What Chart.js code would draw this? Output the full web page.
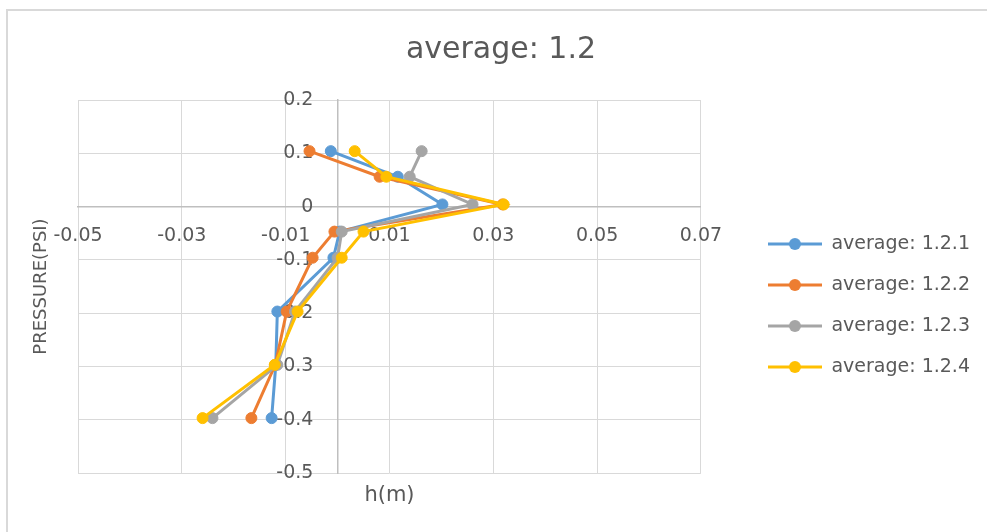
<!DOCTYPE html>
<html>
<head>
<meta charset="utf-8">
<script src="https://cdn.jsdelivr.net/npm/chart.js@4.4.1/dist/chart.umd.min.js"></script>
<style>
  html, body { margin: 0; padding: 0; background: #fff; overflow: hidden; }
  canvas { display: block; }
</style>
</head>
<body>
<canvas id="chart" width="987" height="532"></canvas>
<script>
// Pressure levels (PSI) shared by every run
const pressure = [0.104, 0.056, 0.004, -0.047, -0.096, -0.197, -0.297, -0.397];

// Head h(m) for each run
const run121 = [-0.0013, 0.0116, 0.0202, 0.0004, -0.0008, -0.0116, -0.0119, -0.0127];
const run122 = [-0.0054, 0.0081, 0.0318, -0.0006, -0.0048, -0.0098, -0.0120, -0.0166];
const run123 = [0.0162, 0.0139, 0.0260, 0.0008, 0.0000, -0.0082, -0.0116, -0.0241];
const run124 = [0.0033, 0.0094, 0.0320, 0.0050, 0.0008, -0.0077, -0.0121, -0.0260];

const seriesNames = ['average: 1.2.1', 'average: 1.2.2', 'average: 1.2.3', 'average: 1.2.4'];
const seriesColors = ['#5B9BD5', '#ED7D31', '#A5A5A5', '#FFC000'];

// Tick positions
const xTicks = [-0.05, -0.03, -0.01, 0.01, 0.03, 0.05, 0.07];
const yTicks = [0.2, 0.1, 0, -0.1, -0.2, -0.3, -0.4, -0.5];

const TEXT = '#595959';
const GRID = '#d9d9d9';
const AXIS = '#bfbfbf';
Chart.defaults.font.family = '"DejaVu Sans", sans-serif';
Chart.defaults.color = TEXT;

const runs = [run121, run122, run123, run124];
const toPoints = vals => vals.map((v, i) => ({ x: v, y: pressure[i] }));

// line-with-marker swatch for the legend
function swatch(color) {
  const c = document.createElement('canvas');
  c.width = 54; c.height = 14;
  const g = c.getContext('2d');
  g.strokeStyle = color; g.lineWidth = 3;
  g.beginPath(); g.moveTo(0, 7); g.lineTo(54, 7); g.stroke();
  g.fillStyle = color;
  g.beginPath(); g.arc(27, 7, 6, 0, Math.PI * 2); g.fill();
  return c;
}
const swatches = seriesColors.map(swatch);

const fmt = v => String(+Number(v).toFixed(2));
// y labels sit to the left of the vertical axis line; figure spaces keep a gap
const fmtY = v => fmt(v) + '\u2007\u2007';

// white page with a light frame along the top and left edges
const framePlugin = {
  id: 'frame',
  beforeDraw(chart) {
    const { ctx, width, height } = chart;
    ctx.save();
    ctx.fillStyle = '#ffffff';
    ctx.fillRect(0, 0, width, height);
    ctx.strokeStyle = GRID;
    ctx.lineWidth = 2;
    ctx.beginPath();
    ctx.moveTo(7, height);
    ctx.lineTo(7, 10);
    ctx.lineTo(width, 10);
    ctx.stroke();
    ctx.restore();
  }
};

const datasets = runs.map((vals, i) => ({
  label: seriesNames[i],
  data: toPoints(vals),
  xAxisID: 'x',
  yAxisID: 'y',
  showLine: true,
  borderColor: seriesColors[i],
  backgroundColor: seriesColors[i],
  borderWidth: 3,
  pointRadius: 5.5,
  pointBorderWidth: 1,
  pointHoverRadius: 5.5,
  order: runs.length - i
}));

new Chart(document.getElementById('chart'), {
  type: 'scatter',
  data: { datasets },
  plugins: [framePlugin],
  options: {
    responsive: false,
    animation: false,
    layout: { padding: { left: 22, right: 7, top: 0, bottom: 0 } },
    plugins: {
      tooltip: { enabled: false },
      title: {
        display: true,
        text: 'average: 1.2',
        color: TEXT,
        font: { size: 30, weight: 'normal' },
        padding: { top: 32, bottom: 32 }
      },
      legend: {
        position: 'right',
        maxWidth: 300,
        title: { display: true, text: '', padding: { top: 0, bottom: 64.6 } },
        labels: {
          usePointStyle: true,
          pointStyleWidth: 54,
          padding: 22,
          color: TEXT,
          font: { size: 19 },
          generateLabels(chart) {
            const items = Chart.defaults.plugins.legend.labels.generateLabels(chart);
            items.sort((a, b) => a.datasetIndex - b.datasetIndex);
            items.forEach(it => { it.pointStyle = swatches[it.datasetIndex]; });
            return items;
          }
        }
      }
    },
    scales: {
      x: {
        type: 'linear',
        position: { y: 0 },
        min: -0.05, max: 0.07,
        afterBuildTicks: s => { s.ticks = xTicks.map(v => ({ value: v })); },
        grid: { color: GRID, lineWidth: 1, drawTicks: false },
        border: { color: AXIS, width: 1.5 },
        ticks: { padding: 18, color: TEXT, font: { size: 19 }, callback: fmt }
      },
      y: {
        type: 'linear',
        position: { x: 0 },
        min: -0.5, max: 0.2,
        afterBuildTicks: s => { s.ticks = yTicks.map(v => ({ value: v })); },
        grid: { color: GRID, lineWidth: 1, drawTicks: false },
        border: { color: AXIS, width: 1.5 },
        ticks: { color: TEXT, font: { size: 19 }, callback: fmtY }
      },
      xTitle: {
        type: 'linear',
        position: 'bottom',
        grid: { display: false, drawTicks: false },
        border: { display: false },
        ticks: { display: false },
        title: { display: true, text: 'h(m)', color: TEXT, font: { size: 21 }, padding: { top: 10.4, bottom: 23.4 } }
      },
      yTitle: {
        type: 'linear',
        position: 'left',
        grid: { display: false, drawTicks: false },
        border: { display: false },
        ticks: { display: false },
        title: { display: true, text: 'PRESSURE(PSI)', color: TEXT, font: { size: 18 }, padding: { top: 8.2, bottom: 26.2 } }
      },
      gap: {
        type: 'linear',
        position: 'right',
        grid: { display: false, drawTicks: false },
        border: { display: false },
        ticks: { display: false },
        afterFit: s => { s.width = 45; }
      }
    }
  }
});
</script>
</body>
</html>
